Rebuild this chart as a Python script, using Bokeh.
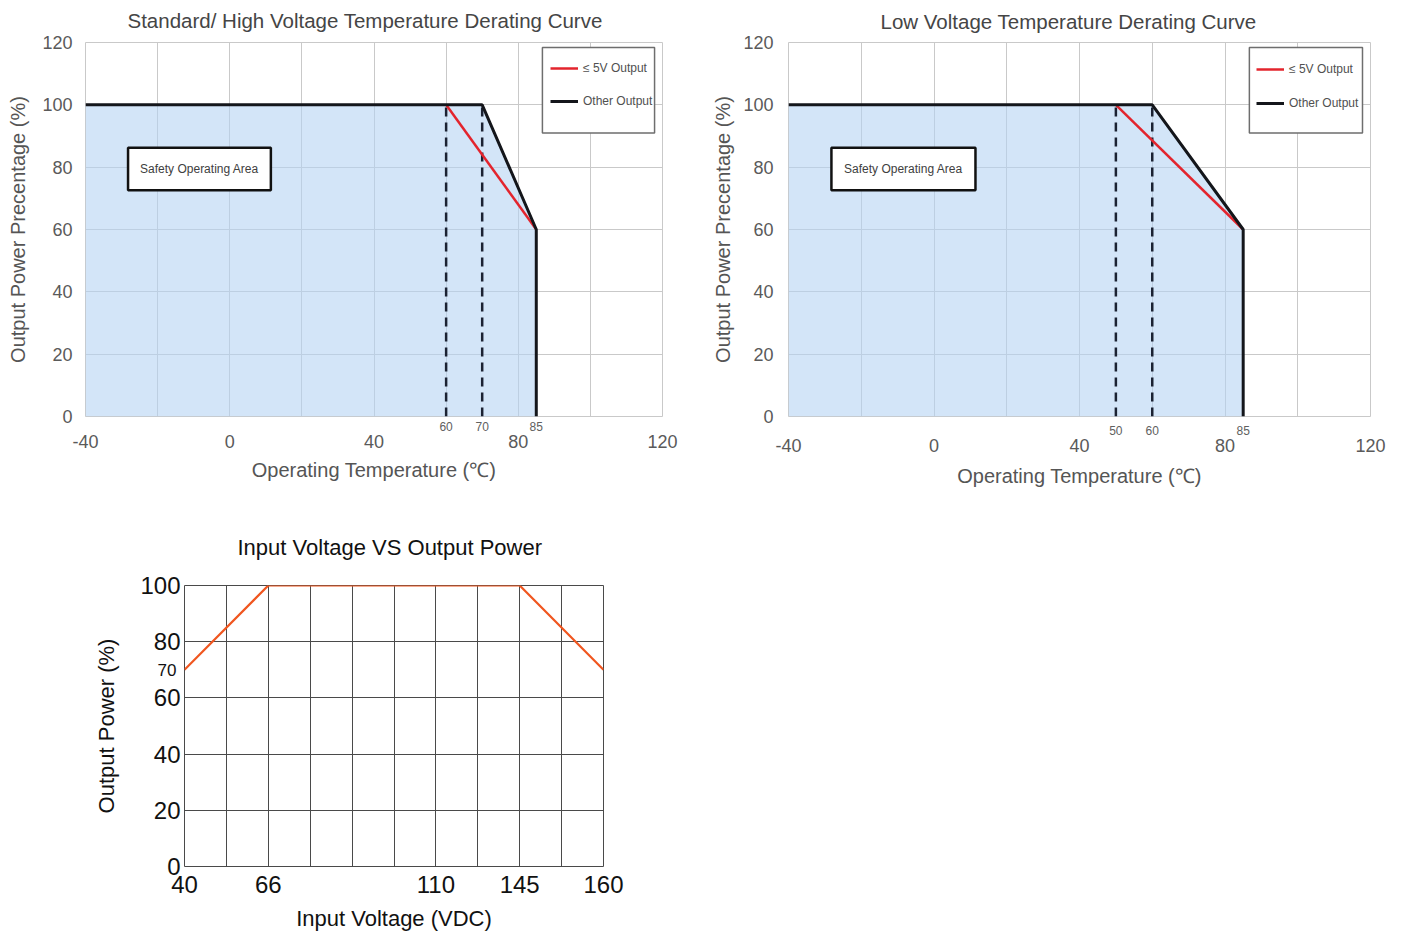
import numpy as np
from bokeh.plotting import figure
from bokeh.layouts import column, row
from bokeh.models import FixedTicker, Legend, LegendItem, Range1d, LinearAxis
from bokeh.embed import file_html
from bokeh.resources import INLINE
from bokeh.core.properties import value

# ---------------- data ----------------
# Standard / High voltage temperature derating
std_other_temp = [-40, 70, 85, 85]
std_other_pct = [100, 100, 60, 0]
std_5v_temp = [60, 85]
std_5v_pct = [100, 60]
std_marks = [60, 70, 85]

# Low voltage temperature derating
low_other_temp = [-40, 60, 85, 85]
low_other_pct = [100, 100, 60, 0]
low_5v_temp = [50, 85]
low_5v_pct = [100, 60]
low_marks = [50, 60, 85]

temp_ticks = [-40, 0, 40, 80, 120]
pct_ticks = [0, 20, 40, 60, 80, 100, 120]

# Input voltage vs output power
vin = [40, 66, 145, 160]
vin_pct = [70, 100, 100, 70]
vin_tick_labels = [40, 66, 110, 145, 160]
vin_tick_cells = [0, 2, 6, 8, 10]
pout_ticks = [0, 20, 40, 60, 80, 100]
pout_extra = [70]

FONT = "Liberation Sans"
GRID = "#c9c9c9"


def bare(ax):
    ax.axis_line_color = None
    ax.major_tick_line_color = None
    ax.minor_tick_line_color = None
    ax.major_tick_out = 0
    ax.major_tick_in = 0


def temp_chart(title, other_t, other_p, v5_t, v5_p, marks, width, height,
               borders, title_offset, title_standoff, y_stand, x_stand, leg_loc, leg_spacing):
    p = figure(width=width, height=height, x_range=Range1d(-40, 120), y_range=Range1d(0, 120),
               output_backend="svg", toolbar_location=None,
               min_border_left=borders[0], min_border_right=borders[1],
               min_border_top=borders[2], min_border_bottom=borders[3])
    p.background_fill_color = "white"
    p.border_fill_color = "white"
    p.outline_line_color = GRID

    p.title.text = title
    p.title.align = "left"
    p.title.vertical_align = "top"
    p.title.text_font = FONT
    p.title.text_font_size = "20.5px"
    p.title.text_font_style = "normal"
    p.title.text_color = "#454545"
    p.title.offset = title_offset
    p.title.standoff = title_standoff

    p.xgrid.ticker = FixedTicker(ticks=list(range(-40, 121, 20)))
    p.ygrid.ticker = FixedTicker(ticks=pct_ticks)
    for g in (p.xgrid, p.ygrid):
        g.grid_line_color = GRID
        g.grid_line_width = 1

    main_x = p.xaxis[0]
    main_y = p.yaxis[0]
    for ax in (main_x, main_y):
        bare(ax)
        ax.major_label_text_font = FONT
        ax.major_label_text_font_size = "18px"
        ax.major_label_text_color = "#5a5a5a"
        ax.axis_label_text_font = FONT
        ax.axis_label_text_font_size = "20px"
        ax.axis_label_text_font_style = "normal"
        ax.axis_label_text_color = "#555555"
    main_x.ticker = FixedTicker(ticks=temp_ticks)
    main_x.major_label_overrides = {t: str(t) for t in temp_ticks}
    main_x.major_label_standoff = x_stand[1]
    main_x.axis_label = "Operating Temperature (℃)"
    main_x.axis_label_standoff = x_stand[2]
    main_y.ticker = FixedTicker(ticks=pct_ticks)
    main_y.major_label_standoff = y_stand[0]
    main_y.axis_label = "Output Power Precentage (%)"
    main_y.axis_label_standoff = y_stand[1]

    # small knee-temperature labels just under the frame
    small = LinearAxis(ticker=FixedTicker(ticks=marks))
    bare(small)
    small.major_label_standoff = x_stand[0]
    small.major_label_text_font = FONT
    small.major_label_text_font_size = "12px"
    small.major_label_text_color = "#606060"
    p.add_layout(small, "below")
    p.below = [small, main_x]

    # safe operating area fill
    p.patch(other_t + [other_t[0]], other_p + [0], fill_color="#b6d3f3", fill_alpha=0.6,
            line_color=None)

    # knee dashed lines
    knees_x = [v5_t[0], other_t[1]]
    knees_y = [v5_p[0], other_p[1]]
    p.segment(x0=knees_x, y0=[0, 0], x1=knees_x, y1=knees_y,
              line_color="#1b2233", line_width=2.5, line_dash="9 6")

    r5 = p.line(v5_t, v5_p, line_color="#e3242d", line_width=2.5)
    rb = p.line(other_t, other_p, line_color="#14161b", line_width=3)

    # legend box
    p.quad(left=[86.7], right=[117.8], top=[118.4], bottom=[91.0],
           fill_color="white", line_color="#6e6e6e", line_width=1.5)
    legend = Legend(items=[LegendItem(label="≤ 5V Output", renderers=[r5]),
                           LegendItem(label="Other Output", renderers=[rb])],
                    location=leg_loc, orientation="vertical",
                    background_fill_alpha=0, border_line_color=None,
                    padding=8, spacing=leg_spacing, margin=0,
                    label_height=20, glyph_height=20, glyph_width=28, label_standoff=5,
                    label_text_font=FONT, label_text_font_size="12px",
                    label_text_color="#505050")
    p.add_layout(legend, "center")

    # safety operating area box
    p.quad(left=[-28.2], right=[11.4], top=[86.2], bottom=[72.6],
           fill_color="white", line_color="#111111", line_width=2.5)
    p.text(x=[-8.4], y=[79.4], text=["Safety Operating Area"], text_align="center",
           text_baseline="middle", text_font=value(FONT), text_font_size="12px",
           text_color="#404040")
    return p


ROW_H = 507
p1 = temp_chart("Standard/ High Voltage Temperature Derating Curve",
                std_other_temp, std_other_pct, std_5v_temp, std_5v_pct, std_marks,
                690, ROW_H, (85, 28, 42, ROW_H - 416), 42, 17, (13, 10), (5, 1, 8),
                (465, 305), 13)
p2 = temp_chart("Low Voltage Temperature Derating Curve",
                low_other_temp, low_other_pct, low_5v_temp, low_5v_pct, low_marks,
                711, ROW_H, (98, 31, 42, ROW_H - 416), 92, 16, (15, 6), (9, 1, 10),
                (468, 303), 14)

# ---------------- input voltage chart ----------------
P3_H = 934 - ROW_H
p3 = figure(width=648, height=P3_H, x_range=Range1d(0, 10), y_range=Range1d(0, 100),
            output_backend="svg", toolbar_location=None,
            min_border_left=184, min_border_right=45, min_border_top=585 - ROW_H,
            min_border_bottom=934 - 866)
p3.outline_line_color = "#4a4a4a"
p3.title.text = "Input Voltage VS Output Power"
p3.title.align = "left"
p3.title.vertical_align = "top"
p3.title.text_font = FONT
p3.title.text_font_size = "22px"
p3.title.text_font_style = "normal"
p3.title.text_color = "#111111"
p3.title.offset = 53
p3.title.standoff = 48

p3.xgrid.ticker = FixedTicker(ticks=list(range(0, 11)))
p3.ygrid.ticker = FixedTicker(ticks=pout_ticks)
for g in (p3.xgrid, p3.ygrid):
    g.grid_line_color = "#4a4a4a"
    g.grid_line_width = 1

vx = p3.xaxis[0]
vy = p3.yaxis[0]
for ax in (vx, vy):
    bare(ax)
    ax.major_label_text_font = FONT
    ax.major_label_text_font_size = "24px"
    ax.major_label_text_color = "#111111"
    ax.axis_label_text_font = FONT
    ax.axis_label_text_font_size = "22px"
    ax.axis_label_text_font_style = "normal"
    ax.axis_label_text_color = "#111111"

vx.ticker = FixedTicker(ticks=vin_tick_cells)
vx.major_label_overrides = {c: str(v) for c, v in zip(vin_tick_cells, vin_tick_labels)}
vx.major_label_standoff = 9
vx.axis_label = "Input Voltage (VDC)"
vx.axis_label_standoff = 10
vy.ticker = FixedTicker(ticks=pout_ticks)
vy.major_label_standoff = -26
vy.axis_label = "Output Power (%)"
vy.axis_label_standoff = 18

inner = LinearAxis(ticker=FixedTicker(ticks=pout_extra))
bare(inner)
inner.major_label_standoff = 8
inner.major_label_text_font = FONT
inner.major_label_text_font_size = "17px"
inner.major_label_text_color = "#111111"
p3.add_layout(inner, "left")
p3.left = [inner, vy]

vin_pos = np.interp(vin, vin_tick_labels, vin_tick_cells)
p3.line(vin_pos, vin_pct, line_color="#f0561f", line_width=2.2)

layout = column(row(p1, p2), p3)
open("out.html", "w").write(file_html(layout, INLINE))
